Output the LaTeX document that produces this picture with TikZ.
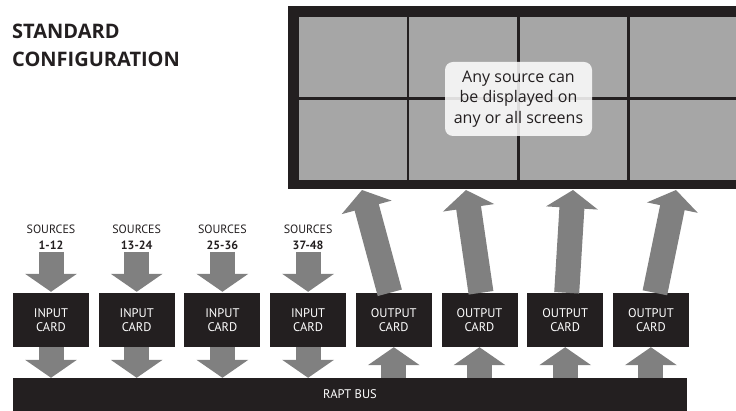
\documentclass[tikz,border=0pt]{standalone}
\usepackage{fontspec}
\setmainfont{PT Sans}
\newfontfamily\headfont{Open Sans}
\usepackage{xcolor}
\usetikzlibrary{arrows.meta, positioning}
\definecolor{cardblack}{RGB}{35,31,32}
\definecolor{arrowgray}{RGB}{128,128,128}
\definecolor{screengray}{RGB}{166,166,166}

\begin{document}
\begin{tikzpicture}[
    x=1pt, y=-1pt,
    node distance=9.3pt,
    card/.style={rectangle, fill=cardblack, text=white, minimum width=76pt, minimum height=54pt, inner sep=0pt, align=center, font=\fontsize{12.5}{14}\selectfont},
    cell/.style={rectangle, fill=screengray, minimum width=107.5pt, minimum height=80pt, inner sep=0pt},
    srclabel/.style={align=center, inner sep=0pt, text=cardblack, font=\fontsize{12}{16}\selectfont},
    titletext/.style={anchor=base west, inner sep=0pt, text=cardblack, font=\headfont\fontsize{20}{28}\selectfont\bfseries},
    note/.style={rectangle, rounded corners=8pt, fill=white, fill opacity=0.85, text opacity=1, text=cardblack, minimum width=147pt, minimum height=74pt, inner sep=2pt, align=center, font=\headfont\fontsize{16}{20.5}\selectfont},
    fatarrow/.style={draw=arrowgray, line width=25pt, -{Triangle[width=51pt, length=18pt]}}
]
\path[use as bounding box, clip] (0,0) rectangle (736,411);

% title
\node[titletext] (title1) at (12,39) {STANDARD};
\node[titletext] (title2) at (12,67) {CONFIGURATION};

% video wall
\node[rectangle, fill=cardblack, minimum width=462pt, minimum height=183pt, inner sep=0pt] (screen) at (519,97.5) {};
\foreach \r/\y in {1/57, 2/140}
  \foreach \c in {1,...,4}
    \node[cell] (c\r\c) at ({352.75+110.3*(\c-1)},\y) {};
\node[note] (note) at (518.5,99) {Any source can\\be displayed on\\any or all screens};

% cards
\node[card] (in1) at (51,320) {INPUT\\CARD};
\node[card, right=of in1] (in2) {INPUT\\CARD};
\node[card, right=of in2] (in3) {INPUT\\CARD};
\node[card, right=of in3] (in4) {INPUT\\CARD};
\node[card, right=of in4] (out1) {OUTPUT\\CARD};
\node[card, right=of out1] (out2) {OUTPUT\\CARD};
\node[card, right=of out2] (out3) {OUTPUT\\CARD};
\node[card, right=of out3] (out4) {OUTPUT\\CARD};

\node[card, minimum width=674pt, minimum height=33pt] (bus) at (350,394.5) {RAPT BUS};

% sources
\node[srclabel, above=43pt of in1] (src1) {SOURCES\\\textbf{1-12}};
\node[srclabel, above=43pt of in2] (src2) {SOURCES\\\textbf{13-24}};
\node[srclabel, above=43pt of in3] (src3) {SOURCES\\\textbf{25-36}};
\node[srclabel, above=43pt of in4] (src4) {SOURCES\\\textbf{37-48}};

% arrows
\foreach \i in {1,...,4} {
  \draw[fatarrow, shorten <=2pt, shorten >=1pt] (src\i.south) -- (in\i.north);
  \draw[fatarrow] (in\i.south) -- (in\i.south |- bus.north);
  \draw[fatarrow] (out\i.south |- bus.north) -- (out\i.south);
}
\coordinate (tip1) at (362,190);
\coordinate (tip2) at (466,190);
\coordinate (tip3) at (573,190);
\coordinate (tip4) at (676,190);
\draw[fatarrow] ([xshift=-4pt]out1.north) -- (tip1);
\draw[fatarrow] ([xshift=1.5pt]out2.north) -- (tip2);
\draw[fatarrow] ([xshift=1.5pt]out3.north) -- (tip3);
\draw[fatarrow] ([xshift=4pt]out4.north) -- (tip4);
\end{tikzpicture}
\end{document}
